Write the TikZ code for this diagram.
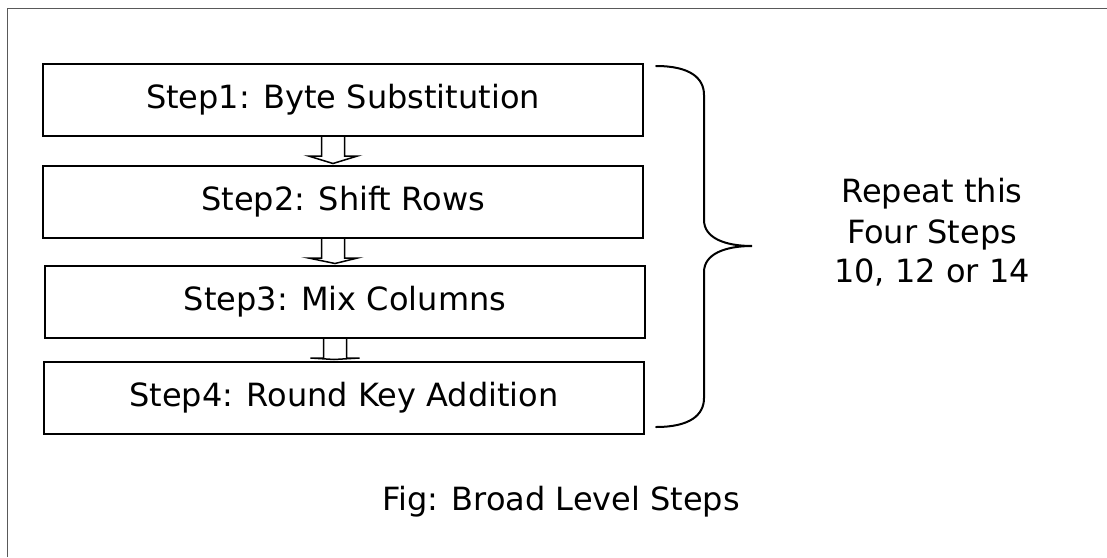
\documentclass[tikz,border=0pt]{standalone}
\usepackage{fontspec}
\setmainfont{DejaVu Sans}
\usetikzlibrary{calc}
\tikzset{
  stepbox/.style={draw=black, line width=2pt, rectangle, minimum width=600pt,
    minimum height=72pt, inner sep=0pt, font=\fontsize{32}{38}\selectfont},
  blockarrow/.style={draw=black, fill=white, line width=1.5pt, line join=miter},
  bracestyle/.style={draw=black, line width=2pt, line cap=round},
  sidetext/.style={anchor=base, inner sep=0pt, font=\fontsize{32}{38}\selectfont},
  framestyle/.style={draw=black!65, line width=1.6pt}
}
\begin{document}
\begin{tikzpicture}[x=1pt, y=-1pt]
  \useasboundingbox (0,0) rectangle (1107,557);
  % outer frame (top and left edges only)
  \draw[framestyle] (7.5,557) -- (7.5,8.5) -- (1107,8.5);

  % the four round steps
  \node[stepbox] (b1) at (343,100) {Step1: Byte Substitution};
  \node[stepbox] (b2) at (343,202) {Step2: Shift Rows};
  \node[stepbox] (b3) at (345,302) {Step3: Mix Columns};
  \node[stepbox] (b4) at (344,398) {Step4: Round Key Addition};

  % hollow block arrows between consecutive steps
  \foreach \u/\v in {b1/b2, b2/b3, b3/b4} {
    \draw[blockarrow]
      ($(\u.south)+(-21.5,0)$) -- ($(\u.south)+(-21.5,19)$)
      -- ($(\u.south)+(-34.5,19)$) -- ($(\v.north)+(-10,-1.5)$)
      -- ($(\u.south)+(14.5,19)$) -- ($(\u.south)+(1.5,19)$)
      -- ($(\u.south)+(1.5,0)$);
  }

  % curly brace grouping the four steps
  \coordinate (brtop) at (656,66);
  \coordinate (brmid) at (752,246);
  \coordinate (brbot) at (656,427);
  \draw[bracestyle] (brtop) .. controls (690,66) and (704,78) .. (704,95)
    -- (704,220) .. controls (704,238) and (725,246) .. (brmid)
    .. controls (725,246) and (704,254) .. (704,272)
    -- (704,398) .. controls (704,415) and (690,427) .. (brbot);

  % note beside the brace
  \node[sidetext] (r1) at (932,202) {Repeat this};
  \node[sidetext] (r2) at (932,243) {Four Steps};
  \node[sidetext] (r3) at (932,282) {10, 12 or 14};

  % caption
  \node[sidetext] (cap) at (561,510) {Fig: Broad Level Steps};
\end{tikzpicture}
\end{document}
